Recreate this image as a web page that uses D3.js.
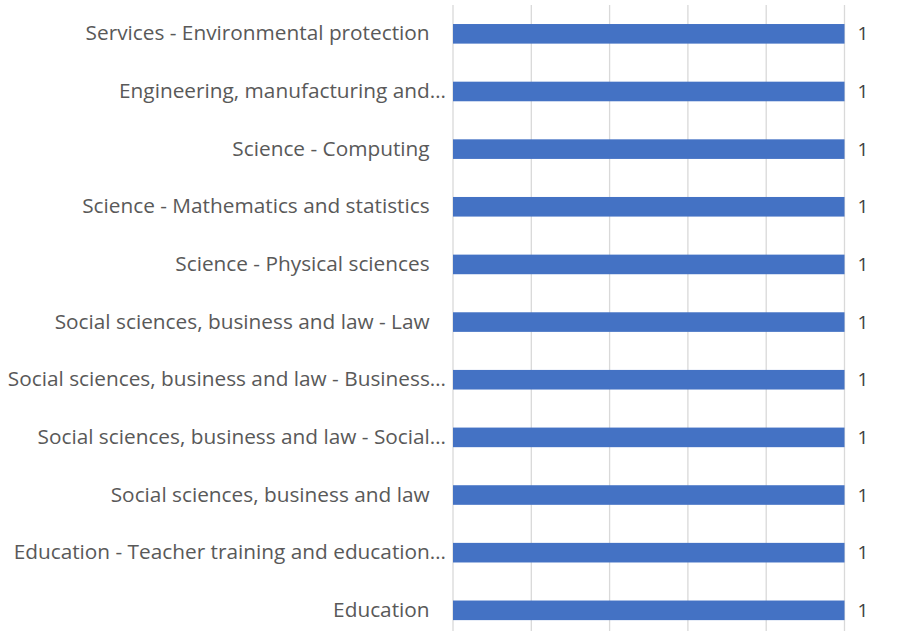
<!DOCTYPE html>
<html>
<head>
<meta charset="utf-8">
<script src="https://cdn.jsdelivr.net/npm/d3@7"></script>
<style>
  body { margin: 0; background: #fff; }
  text { font-family: "Open Sans", sans-serif; white-space: pre; }
</style>
</head>
<body>
<div id="chart"></div>
<script>
// DATA
const categories = [
  "Services - Environmental protection ",
  "Engineering, manufacturing and…",
  "Science - Computing ",
  "Science - Mathematics and statistics ",
  "Science - Physical sciences ",
  "Social sciences, business and law - Law ",
  "Social sciences, business and law - Business…",
  "Social sciences, business and law - Social…",
  "Social sciences, business and law ",
  "Education - Teacher training and education…",
  "Education "
]
const values = [1, 1, 1, 1, 1, 1, 1, 1, 1, 1, 1]
const gridTicks = [0, 0.2, 0.4, 0.6, 0.8, 1]

const width = 918, height = 631

// SCALE
const xScale = d3.scaleLinear()
    .domain([0, 1])
    .range([453, 844.5])

const yScale = d3.scaleBand()
    .domain(categories)
    .range([5, 5 + 57.65 * categories.length])
    .paddingInner(0.66)
    .paddingOuter(0.33)

const svg = d3.select("#chart")
    .append("svg")
    .attr("width", width)
    .attr("height", height)

// GRIDLINES
svg.append("g")
    .selectAll("line")
    .data(gridTicks)
    .join("line")
    .attr("x1", d => xScale(d))
    .attr("x2", d => xScale(d))
    .attr("y1", yScale.range()[0])
    .attr("y2", yScale.range()[1])
    .attr("stroke", "#d9d9d9")
    .attr("stroke-width", 1.3)

// BARS
svg.append("g")
    .selectAll("rect")
    .data(values)
    .join("rect")
    .attr("x", xScale(0))
    .attr("y", (d, i) => yScale(categories[i]))
    .attr("width", d => xScale(d) - xScale(0))
    .attr("height", yScale.bandwidth())
    .attr("fill", "#4472C4")

// CATEGORY LABELS (labels with a trailing space sit a little further left)
const yAxis = d3.axisLeft(yScale).tickSize(0).tickPadding(7)
svg.append("g")
    .attr("transform", `translate(${xScale(0)},0)`)
    .call(yAxis)
    .call(g => g.select(".domain").remove())
    .selectAll("text")
    .attr("font-size", "20.8px")
    .attr("fill", "#595959")
    .attr("dx", d => d.endsWith(" ") ? -11 : 0)
    .style("font-family", '"Open Sans", sans-serif')

// VALUE LABELS
svg.append("g")
    .selectAll("text")
    .data(values)
    .join("text")
    .attr("x", d => xScale(d) + 13)
    .attr("y", (d, i) => yScale(categories[i]) + yScale.bandwidth() / 2)
    .attr("dy", "0.35em")
    .attr("font-size", "19px")
    .attr("fill", "#404040")
    .text(d => d)
</script>
</body>
</html>
